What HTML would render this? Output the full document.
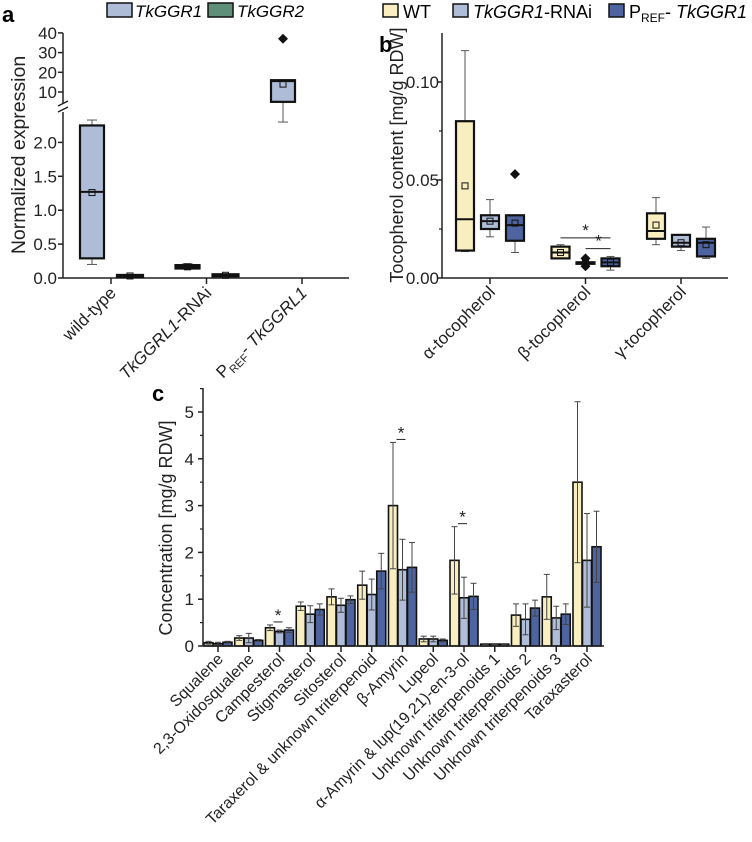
<!DOCTYPE html>
<html><head><meta charset="utf-8">
<style>
html,body{margin:0;padding:0;background:#fff;}
svg{display:block;font-family:"Liberation Sans","DejaVu Sans",sans-serif;}
</style></head>
<body>
<svg id="fig" width="752" height="842" viewBox="0 0 752 842" xmlns="http://www.w3.org/2000/svg">
<g id="pa"></g>
<g id="pb"></g>
<g id="pc"></g>
</svg>
<script>
// ---------- Panel a data ----------
const aCategories = ["wild-type","TkGGRL1-RNAi","PREF-TkGGRL1"];
// [whiskerLow, q1, median, q3, whiskerHigh, mean]
const aGGR1 = [[0.2,0.29,1.27,2.25,2.33,1.26],[0.13,0.14,0.165,0.19,0.21,0.165],[2.3,5,15.5,16,16,14]];
const aGGR2 = [[0.02,0.02,0.03,0.045,0.05,0.03],[0.02,0.025,0.04,0.055,0.06,0.04],null];
const aOutliers = [[2,0,37]];
const aLowTicks = [0,0.5,1.0,1.5,2.0];
const aHighTicks = [10,20,30,40];
// ---------- Panel b data ----------
const bCategories = ["α-tocopherol","β-tocopherol","γ-tocopherol"];
const bWT   = [[0.0135,0.014,0.030,0.080,0.116,0.047],[0.010,0.010,0.013,0.016,0.017,0.013],[0.017,0.020,0.024,0.033,0.041,0.027]];
const bRNAi = [[0.021,0.025,0.029,0.032,0.040,0.029],[0.008,0.008,0.008,0.008,0.008,0.008],[0.014,0.016,0.018,0.022,0.022,0.018]];
const bPREF = [[0.013,0.019,0.027,0.032,0.032,0.028],[0.004,0.006,0.008,0.010,0.011,0.008],[0.010,0.011,0.018,0.020,0.026,0.017]];
const bOutliers = [[2,0,0.053],[1,1,0.006],[1,1,0.010]];
const bTicks = [0.00,0.05,0.10];
// ---------- Panel c data ----------
const cCategories = ["Squalene","2,3-Oxidosqualene","Campesterol","Stigmasterol","Sitosterol","Taraxerol & unknown triterpenoid","β-Amyrin","Lupeol","α-Amyrin & lup(19,21)-en-3-ol","Unknown triterpenoids 1","Unknown triterpenoids 2","Unknown triterpenoids 3","Taraxasterol"];
const cWT    = [0.07,0.17,0.39,0.85,1.05,1.30,3.00,0.15,1.83,0.04,0.66,1.05,3.50];
const cRNAi  = [0.05,0.17,0.31,0.68,0.87,1.10,1.63,0.15,1.03,0.04,0.57,0.60,1.83];
const cPREF  = [0.08,0.12,0.34,0.78,0.99,1.60,1.68,0.12,1.06,0.04,0.81,0.68,2.12];
const cWTerr   = [0.03,0.05,0.06,0.09,0.17,0.30,1.35,0.06,0.72,0.01,0.24,0.48,1.72];
const cRNAierr = [0.03,0.10,0.03,0.18,0.15,0.33,0.65,0.06,0.44,0.01,0.33,0.25,1.00];
const cPREFerr = [0.02,0.02,0.05,0.12,0.08,0.38,0.53,0.03,0.28,0.01,0.17,0.22,0.76];
const cStars = [2,6,8];
const cTicks = [0,1,2,3,4,5];

const NS="http://www.w3.org/2000/svg";
const C_WT="#f8eec0", C_RNAi="#b0bdd8", C_PREF="#4d64a0", C_G1="#aebcd7", C_G2="#5f8f79";
const TICK=17, TITLE=19.5, CAT=17, CATC=16;
function mk(parent,tag,attrs,text){const e=document.createElementNS(NS,tag);for(const k in attrs)e.setAttribute(k,attrs[k]);if(text!==undefined)e.textContent=text;parent.appendChild(e);return e;}

// ===== Panel a =====
const pa=document.getElementById('pa');
const aX0=63, aX1=349;
function aY(v){ return v<=2.5 ? 278 - v*67.8 : 92 - (v-10)*1.97; }
function aCat(i){ return 111 + i*95.5; }
let t=mk(pa,'text',{x:2,y:22,'font-size':22,'font-weight':'bold'},'a');

let lg=mk(pa,'g',{});
let r=mk(lg,'rect',{x:107,y:3,width:25,height:14,fill:C_G1,stroke:'#111','stroke-width':1.5});

t=mk(lg,'text',{x:135,y:17,'font-size':17,'font-style':'italic'},'TkGGR1');

r=mk(lg,'rect',{x:208,y:3,width:25,height:14,fill:C_G2,stroke:'#111','stroke-width':1.5});

t=mk(lg,'text',{x:237,y:17,'font-size':17,'font-style':'italic'},'TkGGR2');

let ax=mk(pa,'g',{stroke:'#222','stroke-width':1.5,fill:'none'});

mk(ax,'line',{x1:aX0,y1:33,x2:aX0,y2:103});
mk(ax,'line',{x1:aX0,y1:112,x2:aX0,y2:278});
mk(ax,'line',{x1:aX0-5,y1:106,x2:aX0+5,y2:101});
mk(ax,'line',{x1:aX0-5,y1:112,x2:aX0+5,y2:107});
let xa=mk(pa,'line',{x1:aX0,y1:278,x2:aX1,y2:278,stroke:'#222','stroke-width':1.5});

aLowTicks.concat(aHighTicks).forEach(v=>{
  mk(pa,'line',{x1:aX0-5,y1:aY(v),x2:aX0,y2:aY(v),stroke:'#222','stroke-width':1.5});
  let tl=mk(pa,'text',{x:aX0-6,y:aY(v)+6,'font-size':TICK,'text-anchor':'end',fill:'#222'},v<=2.5?v.toFixed(1):String(v));
  
});
t=mk(pa,'text',{x:0,y:0,'font-size':TITLE,'text-anchor':'middle',transform:'translate(25,155) rotate(-90)',fill:'#222'},'Normalized expression');

aCategories.forEach((c,i)=>{
  const x=aCat(i);
  mk(pa,'line',{x1:x,y1:278,x2:x,y2:284,stroke:'#222','stroke-width':1.5});
  const g=mk(pa,'text',{x:0,y:0,'font-size':CAT,'text-anchor':'end',transform:`translate(${x+6},${294}) rotate(-45)`,fill:'#222'});
  
  if(i===0){g.textContent='wild-type';}
  else if(i===1){mk(g,'tspan',{'font-style':'italic'},'TkGGRL1');mk(g,'tspan',{},'-RNAi');}
  else {mk(g,'tspan',{},'P');mk(g,'tspan',{'font-size':11,dy:4},'REF');mk(g,'tspan',{dy:-4},'- ');mk(g,'tspan',{'font-style':'italic'},'TkGGRL1');}
});
function boxA(parent,x,w,d,fill,name){
  const g=mk(parent,'g',{stroke:'#111',fill:'none'});
  
  const [lo,q1,md,q3,hi,mn]=d;
  mk(g,'line',{x1:x,y1:aY(hi),x2:x,y2:aY(q3),'stroke-width':1,stroke:'#555'});
  mk(g,'line',{x1:x,y1:aY(lo),x2:x,y2:aY(q1),'stroke-width':1,stroke:'#555'});
  mk(g,'line',{x1:x-5,y1:aY(hi),x2:x+5,y2:aY(hi),'stroke-width':1,stroke:'#555'});
  mk(g,'line',{x1:x-5,y1:aY(lo),x2:x+5,y2:aY(lo),'stroke-width':1,stroke:'#555'});
  mk(g,'rect',{x:x-w/2,y:aY(q3),width:w,height:Math.max(2,aY(q1)-aY(q3)),fill:fill,'stroke-width':2.2});
  mk(g,'line',{x1:x-w/2,y1:aY(md),x2:x+w/2,y2:aY(md),'stroke-width':2});
  mk(g,'rect',{x:x-3,y:aY(mn)-3,width:6,height:6,'stroke-width':1});
}
aGGR1.forEach((d,i)=>{ boxA(pa,aCat(i)-19,24,d,C_G1,'box-tkggr1-'+i); });
aGGR2.forEach((d,i)=>{ if(d) boxA(pa,aCat(i)+19,26,d,C_G2,'box-tkggr2-'+i); });
aOutliers.forEach(o=>{
  const x=aCat(o[0])+(o[1]===0?-19:19), y=aY(o[2]);
  const p=mk(pa,'path',{d:`M${x},${y-5}L${x+5},${y}L${x},${y+5}L${x-5},${y}Z`,fill:'#111'});
  
});

// ===== Panel b =====
const pb=document.getElementById('pb');
const bX0=442, bX1=728;
function bY(v){ return 278 - v*1960; }
function bCat(i){ return 490 + i*95.5; }
t=mk(pb,'text',{x:379,y:52,'font-size':22,'font-weight':'bold'},'b');

lg=mk(pb,'g',{});
[[383,C_WT],[453,C_RNAi],[609,C_PREF]].forEach((s,k)=>{
  const rr=mk(lg,'rect',{x:s[0],y:4,width:15,height:13,fill:s[1],stroke:'#111','stroke-width':1.5});
  
});
t=mk(lg,'text',{x:403,y:18,'font-size':18},'WT');
t=mk(lg,'text',{x:473,y:18,'font-size':18});
mk(t,'tspan',{'font-style':'italic'},'TkGGR1');mk(t,'tspan',{},'-RNAi');
t=mk(lg,'text',{x:629,y:18,'font-size':18});
mk(t,'tspan',{},'P');mk(t,'tspan',{'font-size':12,dy:4},'REF');mk(t,'tspan',{dy:-4},'- ');mk(t,'tspan',{'font-style':'italic'},'TkGGR1');
ax=mk(pb,'line',{x1:bX0,y1:33,x2:bX0,y2:278,stroke:'#222','stroke-width':1.5});

xa=mk(pb,'line',{x1:bX0,y1:278,x2:bX1,y2:278,stroke:'#222','stroke-width':1.5});

bTicks.forEach(v=>{
  mk(pb,'line',{x1:bX0-5,y1:bY(v),x2:bX0,y2:bY(v),stroke:'#222','stroke-width':1.5});
  const tl=mk(pb,'text',{x:bX0-3,y:bY(v)+6,'font-size':TICK,'text-anchor':'end',fill:'#222'},v.toFixed(2));
  
});
[0.025,0.075].forEach(v=>mk(pb,'line',{x1:bX0-3,y1:bY(v),x2:bX0,y2:bY(v),stroke:'#222','stroke-width':1.2}));
t=mk(pb,'text',{x:0,y:0,'font-size':18,'text-anchor':'middle',transform:'translate(403,155) rotate(-90)',fill:'#222'},'Tocopherol content [mg/g RDW]');

bCategories.forEach((c,i)=>{
  const x=bCat(i);
  mk(pb,'line',{x1:x,y1:278,x2:x,y2:284,stroke:'#222','stroke-width':1.5});
  const g=mk(pb,'text',{x:0,y:0,'font-size':CAT,'text-anchor':'end',transform:`translate(${x+6},${293}) rotate(-45)`,fill:'#222'},c);
  
});
function boxB(x,w,d,fill,name){
  const g=mk(pb,'g',{stroke:'#111',fill:'none'});
  
  const [lo,q1,md,q3,hi,mn]=d;
  mk(g,'line',{x1:x,y1:bY(hi),x2:x,y2:bY(lo),'stroke-width':1,stroke:'#555'});
  mk(g,'line',{x1:x-4,y1:bY(hi),x2:x+4,y2:bY(hi),'stroke-width':1,stroke:'#555'});
  mk(g,'line',{x1:x-4,y1:bY(lo),x2:x+4,y2:bY(lo),'stroke-width':1,stroke:'#555'});
  mk(g,'rect',{x:x-w/2,y:bY(q3),width:w,height:Math.max(1.5,bY(q1)-bY(q3)),fill:fill,'stroke-width':2.2});
  mk(g,'line',{x1:x-w/2,y1:bY(md),x2:x+w/2,y2:bY(md),'stroke-width':2});
  mk(g,'rect',{x:x-3,y:bY(mn)-3,width:6,height:6,'stroke-width':1});
}
bWT.forEach((d,i)=>boxB(bCat(i)-25,18,d,C_WT,'box-wt-'+i));
bRNAi.forEach((d,i)=>boxB(bCat(i),18,d,C_RNAi,'box-rnai-'+i));
bPREF.forEach((d,i)=>boxB(bCat(i)+25,18,d,C_PREF,'box-pref-'+i));
bOutliers.forEach(o=>{
  const x=bCat(o[1])+(o[0]-1)*25, y=bY(o[2]);
  const p=mk(pb,'path',{d:`M${x},${y-5}L${x+5},${y}L${x},${y+5}L${x-5},${y}Z`,fill:'#111'});
  
});
let sg=mk(pb,'g',{stroke:'#222','stroke-width':1});
mk(sg,'line',{x1:bCat(1)-25,y1:bY(0.0205),x2:bCat(1)+25,y2:bY(0.0205)});
mk(sg,'line',{x1:bCat(1),y1:bY(0.0150),x2:bCat(1)+25,y2:bY(0.0150)});
mk(pb,'text',{x:bCat(1),y:bY(0.0205)-2,'font-size':17,'text-anchor':'middle',fill:'#222'},'*');
mk(pb,'text',{x:bCat(1)+13,y:bY(0.0150)-2,'font-size':17,'text-anchor':'middle',fill:'#222'},'*');

// ===== Panel c =====
const pc=document.getElementById('pc');
const cX0=203, cX1=604, cBase=646;
function cY(v){ return cBase - v*46.8; }
function cCat(i){ return 218 + i*30.75; }
t=mk(pc,'text',{x:152,y:401,'font-size':22,'font-weight':'bold'},'c');

t=mk(pc,'text',{x:0,y:0,'font-size':18,'text-anchor':'middle',transform:'translate(172,528) rotate(-90)',fill:'#222'},'Concentration [mg/g RDW]');

cTicks.forEach(v=>{
  mk(pc,'line',{x1:cX0-5,y1:cY(v),x2:cX0,y2:cY(v),stroke:'#222','stroke-width':1.5});
  mk(pc,'line',{x1:cX0-3,y1:cY(v+0.5),x2:cX0,y2:cY(v+0.5),stroke:'#222','stroke-width':1.2});
  const tl=mk(pc,'text',{x:cX0-9,y:cY(v)+6,'font-size':TICK,'text-anchor':'end',fill:'#222'},String(v));
  
});
function bar(i,off,v,e,fill,name){
  const x=cCat(i)+off, w=9;
  const g=mk(pc,'g',{});
  mk(g,'rect',{x:x-w/2,y:cY(v),width:w,height:cBase-cY(v),fill:fill,stroke:'#111','stroke-width':1.6});
  mk(g,'line',{x1:x,y1:cY(v+e),x2:x,y2:cY(Math.max(0,v-e)),stroke:'#444','stroke-width':1});
  mk(g,'line',{x1:x-3,y1:cY(v+e),x2:x+3,y2:cY(v+e),stroke:'#444','stroke-width':1});
  mk(g,'line',{x1:x-3,y1:cY(Math.max(0,v-e)),x2:x+3,y2:cY(Math.max(0,v-e)),stroke:'#444','stroke-width':1});
}
cCategories.forEach((c,i)=>{
  bar(i,-9.5,cWT[i],cWTerr[i],C_WT,'bar-wt-'+i);
  bar(i,0,cRNAi[i],cRNAierr[i],C_RNAi,'bar-rnai-'+i);
  bar(i,9.5,cPREF[i],cPREFerr[i],C_PREF,'bar-pref-'+i);
  mk(pc,'line',{x1:cCat(i),y1:cBase,x2:cCat(i),y2:cBase+6,stroke:'#222','stroke-width':1.5});
  const tl=mk(pc,'text',{x:0,y:0,'font-size':CATC,'text-anchor':'end',transform:`translate(${cCat(i)+6},${cBase+14}) rotate(-45)`,fill:'#222'},c);
  
});
ax=mk(pc,'line',{x1:cX0,y1:388,x2:cX0,y2:cBase,stroke:'#222','stroke-width':1.5});

xa=mk(pc,'line',{x1:cX0,y1:cBase,x2:cX1,y2:cBase,stroke:'#222','stroke-width':1.5});

cStars.forEach(i=>{
  const y=cY(cWT[i]+cWTerr[i])-3;
  const g=mk(pc,'g',{});
  mk(g,'line',{x1:cCat(i)-6,y1:y,x2:cCat(i)+3,y2:y,stroke:'#222','stroke-width':1});
  mk(g,'text',{x:cCat(i)-1.5,y:y-1,'font-size':17,'text-anchor':'middle',fill:'#222'},'*');
});
</script>
</body></html>
